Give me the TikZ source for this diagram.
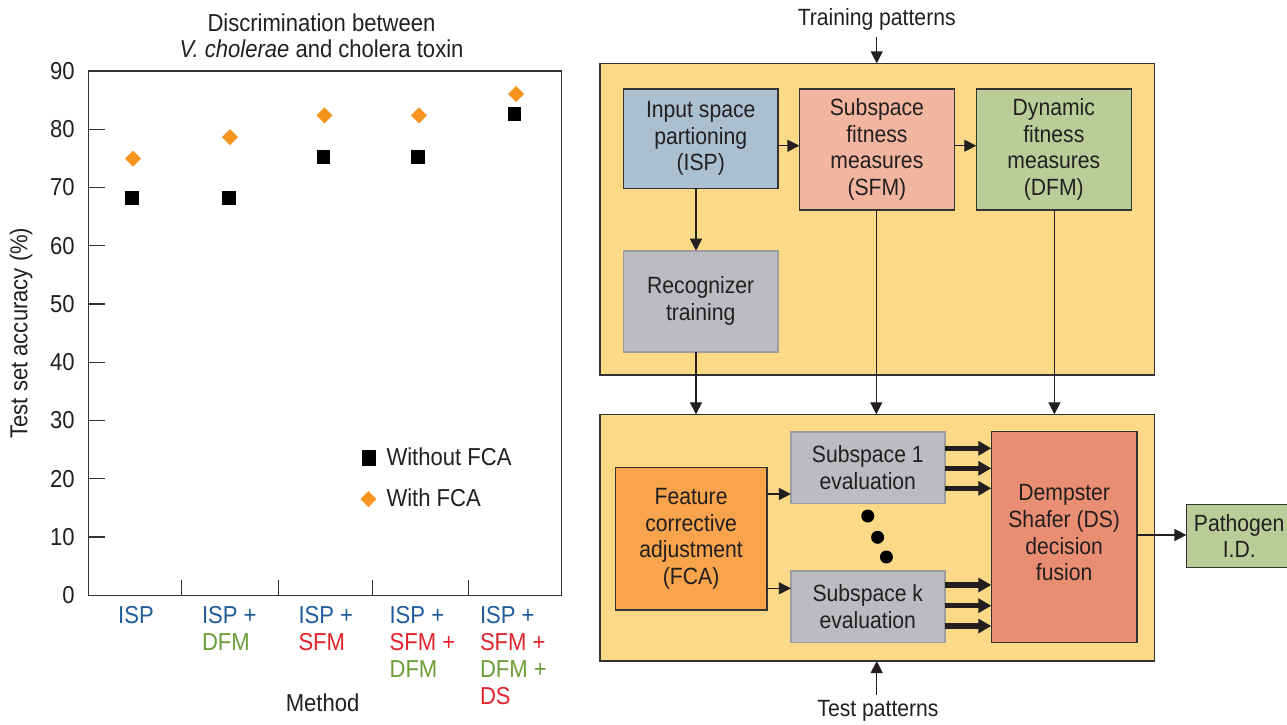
\documentclass[tikz,border=0pt]{standalone}
\usepackage{fontspec}
\setmainfont{Liberation Sans}[FakeStretch=0.9]
\usetikzlibrary{arrows.meta,shapes.geometric}

\definecolor{ink}{HTML}{231F20}
\definecolor{framecol}{HTML}{333333}
\definecolor{panelfill}{HTML}{FCD986}
\definecolor{ispfill}{HTML}{AABFD0}
\definecolor{sfmfill}{HTML}{F2B6A0}
\definecolor{dfmfill}{HTML}{BACD99}
\definecolor{grayfill}{HTML}{BBBCC0}
\definecolor{grayedge}{HTML}{9C9DA0}
\definecolor{fcafill}{HTML}{F7A44C}
\definecolor{dsfill}{HTML}{EA8E73}
\definecolor{mkorange}{HTML}{F7941D}
\definecolor{lblblue}{HTML}{1F5C9A}
\definecolor{lblred}{HTML}{E2232B}
\definecolor{lblgreen}{HTML}{6B9E36}

\newcommand\chartfont{\fontsize{24.5}{27}\selectfont}
\newcommand\boxfont{\fontsize{23.5}{26.6}\selectfont}

\begin{document}
\begin{tikzpicture}[x=1pt,y=-1pt,
  every node/.style={text=ink, inner sep=0pt, outer sep=0pt},
  chartlbl/.style={font=\chartfont},
  panel/.style={draw=framecol, line width=1.4pt, fill=panelfill},
  blockbox/.style={draw=framecol, line width=1.4pt, align=center, font=\boxfont},
  softbox/.style={draw=grayedge, line width=1.6pt, fill=grayfill, align=center, font=\boxfont},
  thin arrow/.style={draw=ink, line width=1.3pt, -{Triangle[length=12pt,width=12pt]}},
  bold arrow/.style={draw=ink, line width=5.5pt, -{Triangle[length=13pt,width=14pt]}},
  sqmark/.style={fill=black, minimum width=13.5pt, minimum height=14pt},
  dmmark/.style={diamond, fill=mkorange, minimum width=16pt, minimum height=16pt},
  tick/.style={draw=framecol, line width=1.2pt},
  catlbl/.style={font=\chartfont, align=left}
]
\useasboundingbox (0,0) rectangle (1287,724);

% ---------------- accuracy chart ----------------
\node[chartlbl] (title1) at (321.5,22.7) {Discrimination between};
\node[chartlbl] (title2) at (321.5,48.3) {\textit{V. cholerae} and cholera toxin};

\draw[framecol, line width=1.5pt] (88.4,71) rectangle (561.4,595.3);

% y axis ticks and values (10 units = 58.26 px)
\foreach \v in {0,...,9} {
  \pgfmathsetmacro{\yy}{595.3-5.826*\v*10}
  \node[chartlbl, anchor=east] (ylab\v) at (74.6,\yy) {\the\numexpr\v*10\relax};
}
\foreach \v in {1,...,8} {
  \pgfmathsetmacro{\yy}{595.3-5.826*\v*10}
  \draw[tick] (88.4,\yy) -- (105,\yy);
}
% category separators
\foreach \xx in {181.4,278.6,372.4,468.8} {
  \draw[tick] (\xx,595.3) -- (\xx,580);
}

\node[chartlbl, rotate=90] (ytitle) at (21,333) {Test set accuracy (\%)};
\node[chartlbl] (xtitle) at (322.6,703) {Method};

% category labels
\node[catlbl, anchor=north] (cat1) at (136,606) {\textcolor{lblblue}{ISP}};
\node[catlbl, anchor=north west] (cat2) at (202,606)
  {\textcolor{lblblue}{ISP +}\\\textcolor{lblgreen}{DFM}};
\node[catlbl, anchor=north west] (cat3) at (298.5,606)
  {\textcolor{lblblue}{ISP +}\\\textcolor{lblred}{SFM}};
\node[catlbl, anchor=north west] (cat4) at (389.6,606)
  {\textcolor{lblblue}{ISP +}\\\textcolor{lblred}{SFM +}\\\textcolor{lblgreen}{DFM}};
\node[catlbl, anchor=north west] (cat5) at (480,606)
  {\textcolor{lblblue}{ISP +}\\\textcolor{lblred}{SFM +}\\\textcolor{lblgreen}{DFM +}\\\textcolor{lblred}{DS}};

% data points
\node[dmmark] (d1) at (133,158.7) {};
\node[dmmark] (d2) at (230,137) {};
\node[dmmark] (d3) at (324.5,115.3) {};
\node[dmmark] (d4) at (419,115.3) {};
\node[dmmark] (d5) at (516,94) {};
\node[sqmark] (s1) at (132,197.7) {};
\node[sqmark] (s2) at (229,197.7) {};
\node[sqmark] (s3) at (323.4,157.3) {};
\node[sqmark] (s4) at (418,157.3) {};
\node[sqmark] (s5) at (514.7,114) {};

% legend
\node[sqmark, minimum width=14.5pt, minimum height=15.5pt] (legsq) at (369,458) {};
\node[chartlbl, anchor=west] (legsqtxt) at (386.5,457) {Without FCA};
\node[dmmark] (legdm) at (368.5,499) {};
\node[chartlbl, anchor=west] (legdmtxt) at (386.5,498) {With FCA};

% ---------------- processing diagram ----------------
\node[panel, minimum width=554.4pt, minimum height=311.7pt] (trainpanel) at (877.2,219.2) {};
\node[panel, minimum width=554.4pt, minimum height=246.7pt] (testpanel) at (877.2,537.65) {};

\node[blockbox, fill=ispfill, minimum width=154.7pt, minimum height=99.3pt] (isp) at (700.7,138.7)
  {Input space\\partioning\\(ISP)};
\node[blockbox, fill=sfmfill, minimum width=155.1pt, minimum height=121pt] (sfm) at (876.9,149.5)
  {Subspace\\fitness\\measures\\(SFM)};
\node[blockbox, fill=dfmfill, minimum width=155.1pt, minimum height=121pt] (dfm) at (1053.8,149.5)
  {Dynamic\\fitness\\measures\\(DFM)};
\node[softbox, minimum width=154.7pt, minimum height=101pt] (rec) at (700.7,301.2)
  {Recognizer\\training};

\node[softbox, minimum width=153.8pt, minimum height=71.6pt] (sub1) at (867.8,467.5)
  {Subspace 1\\evaluation};
\node[softbox, minimum width=153.8pt, minimum height=71.3pt] (subk) at (867.8,606.7)
  {Subspace k\\evaluation};
\node[blockbox, fill=fcafill, minimum width=151.6pt, minimum height=142.3pt] (fca) at (691.1,538.9)
  {Feature\\corrective\\adjustment\\(FCA)};
\node[blockbox, fill=dsfill, minimum width=145.8pt, minimum height=210.6pt] (ds) at (1064.2,537)
  {Dempster\\Shafer (DS)\\decision\\fusion\\[-18pt]\mbox{}};
\node[blockbox, fill=dfmfill, minimum width=105.6pt, minimum height=63pt] (path) at (1239.2,535.8)
  {Pathogen\\I.D.};

\node[font=\boxfont] (trainlbl) at (876.7,19) {Training patterns};
\node[font=\boxfont] (testlbl) at (878,711) {Test patterns};

% column guides for the vertical connectors
\coordinate (colA) at (696,0);
\coordinate (colB) at (876.3,0);
\coordinate (colC) at (1054.4,0);
\coordinate (trainsrc) at (876.7,37);
\coordinate (testsrc) at (876.7,695);

\draw[thin arrow] (trainsrc) -- (trainsrc |- trainpanel.north);
\draw[thin arrow] (isp.east |- 0,145.7) -- (sfm.west |- 0,145.7);
\draw[thin arrow] (sfm.east |- 0,145.7) -- (dfm.west |- 0,145.7);
\draw[thin arrow] (isp.south -| colA) -- (rec.north -| colA);
\draw[thin arrow] (rec.south -| colA) -- (testpanel.north -| colA);
\draw[thin arrow] (sfm.south -| colB) -- (testpanel.north -| colB);
\draw[thin arrow] (dfm.south -| colC) -- (testpanel.north -| colC);
\draw[thin arrow] (testsrc) -- (testsrc |- testpanel.south);

\draw[thin arrow] (fca.east |- 0,494) -- (sub1.west |- 0,494);
\draw[thin arrow] (fca.east |- 0,588.3) -- (subk.west |- 0,588.3);
\draw[thin arrow] (ds.east |- 0,535) -- (path.west |- 0,535);

\foreach \yy in {448.3,468.3,488.3} {
  \draw[bold arrow] (sub1.east |- 0,\yy) -- (ds.west |- 0,\yy);
}
\foreach \yy in {585,605.7,626} {
  \draw[bold arrow] (subk.east |- 0,\yy) -- (ds.west |- 0,\yy);
}

% ellipsis between the subspace evaluators
\fill[black] (867.8,516) circle (6.5pt);
\fill[black] (877.6,537.3) circle (6.5pt);
\fill[black] (886.4,557) circle (6.5pt);
\end{tikzpicture}
\end{document}
